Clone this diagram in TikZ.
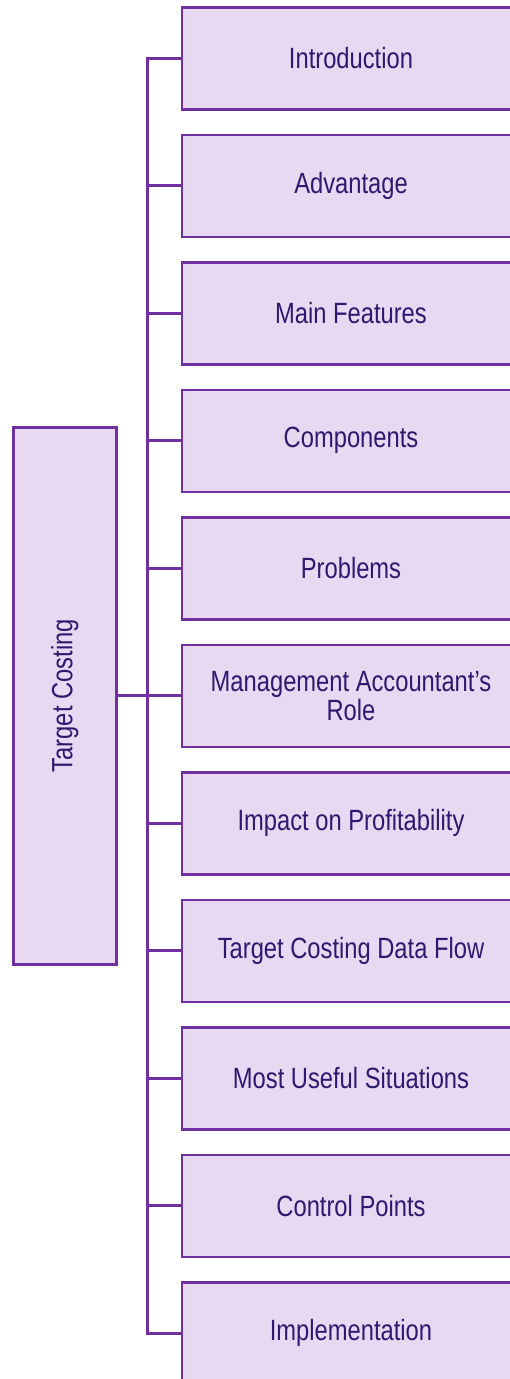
\documentclass[tikz,border=0pt]{standalone}
\usepackage{fontspec}
\setmainfont{Liberation Sans}[FakeStretch=0.81]
\definecolor{boxborder}{RGB}{112,48,160}
\definecolor{boxfill}{RGB}{232,216,242}
\definecolor{boxtext}{RGB}{45,25,110}
\begin{document}
\begin{tikzpicture}[x=1pt,y=-1pt,
  leaf/.style={draw=boxborder, fill=boxfill, line width=2.5pt, minimum width=338pt, minimum height=102pt,
    inner sep=0pt, align=center, text=boxtext, font=\fontsize{29.3}{29}\selectfont},
  rootbox/.style={draw=boxborder, fill=boxfill, line width=2.5pt, minimum width=103pt, minimum height=537pt,
    inner sep=0pt, text=boxtext, font=\fontsize{29.3}{29}\selectfont},
  link/.style={draw=boxborder, line width=2.7pt}]
\useasboundingbox (0,0) rectangle (510,1379);
\clip (0,0) rectangle (510,1379);
\node[rootbox] (root) at (64.8,695.8) {};
\node[rotate=90, text=boxtext, font=\fontsize{29.3}{29}\selectfont] (roottxt) at (root.center) {Target Costing};
\foreach \i/\t in {1/Introduction,2/Advantage,3/Main Features,4/Components,5/Problems,
  6/{Management Accountant’s\\Role},7/Impact on Profitability,8/Target Costing Data Flow,
  9/Most Useful Situations,10/Control Points,11/Implementation}{
  \node[leaf] (b\i) at (351,{58.3+127.5*(\i-1)}) {\t};
}
\draw[link] (b1.west) -- ++(-33,0) |- (b11.west);
\foreach \i in {2,...,10}{
  \draw[link] (b\i.west) -- ++(-33,0);
}
\draw[link] (root.east) -- (b6.west);
\end{tikzpicture}
\end{document}
